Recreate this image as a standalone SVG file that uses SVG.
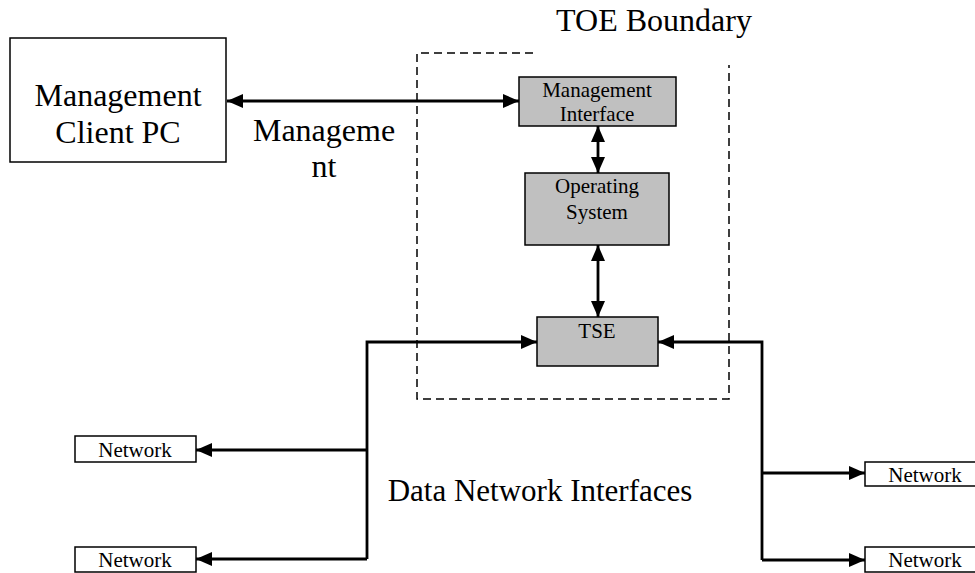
<svg xmlns="http://www.w3.org/2000/svg" width="975" height="573" viewBox="0 0 975 573">
  <style>
    text { font-family: "Liberation Serif", "Times New Roman", serif; fill: #000; text-anchor: middle; }
    .big { font-size: 32px; }
    .small { font-size: 21px; }
    .box { fill: #fff; stroke: #000; stroke-width: 1.5; }
    .comp { fill: #c0c0c0; stroke: #000; stroke-width: 1.5; }
    .wire { fill: none; stroke: #000; stroke-width: 2.8; }
    .bound { fill: none; stroke: #000; stroke-width: 1.5; stroke-dasharray: 8 5; }
  </style>
  <defs>
    <marker id="arrow" viewBox="0 0 16 14" refX="16" refY="7" markerWidth="16" markerHeight="14" markerUnits="userSpaceOnUse" orient="auto-start-reverse">
      <path d="M0,0 L16,7 L0,14 Z" fill="#000"/>
    </marker>
  </defs>
  <rect width="975" height="573" fill="#fff"/>

  <!-- TOE boundary (open at the top right) -->
  <g id="toe-boundary">
    <path class="bound" d="M533,53 H417 V399 H729 V65"/>
    <text class="big" x="654" y="31">TOE Boundary</text>
  </g>

  <g id="client-pc">
    <rect class="box" x="10" y="38" width="216" height="124"/>
    <text class="big" x="118" y="106">Management</text>
    <text class="big" x="118" y="143">Client PC</text>
  </g>

  <g id="mgmt-interface">
    <rect class="comp" x="519" y="77" width="157" height="49"/>
    <text class="small" x="597" y="97">Management</text>
    <text class="small" x="597" y="121">Interface</text>
  </g>

  <g id="operating-system">
    <rect class="comp" x="525" y="173" width="144" height="72"/>
    <text class="small" x="597" y="193">Operating</text>
    <text class="small" x="597" y="219">System</text>
  </g>

  <g id="tse">
    <rect class="comp" x="537" y="317" width="121" height="49"/>
    <text class="small" x="597" y="338">TSE</text>
  </g>

  <g id="net-left-1">
    <rect class="box" x="75" y="436" width="121" height="26"/>
    <text class="small" x="135" y="457">Network</text>
  </g>
  <g id="net-left-2">
    <rect class="box" x="75" y="547" width="121" height="25"/>
    <text class="small" x="135" y="567">Network</text>
  </g>
  <g id="net-right-1">
    <rect class="box" x="865" y="462" width="121" height="24"/>
    <text class="small" x="925" y="482">Network</text>
  </g>
  <g id="net-right-2">
    <rect class="box" x="865" y="547" width="121" height="25"/>
    <text class="small" x="925" y="567">Network</text>
  </g>

  <!-- free labels -->
  <g id="labels">
    <text class="big" x="324" y="141">Manageme</text>
    <text class="big" x="324" y="177">nt</text>
    <text x="540" y="501" font-size="31">Data Network Interfaces</text>
  </g>

  <g id="connectors">
    <line class="wire" x1="227" y1="101" x2="519" y2="101" marker-start="url(#arrow)" marker-end="url(#arrow)"/>
    <line class="wire" x1="598" y1="126" x2="598" y2="173" marker-start="url(#arrow)" marker-end="url(#arrow)"/>
    <line class="wire" x1="598" y1="245" x2="598" y2="317" marker-start="url(#arrow)" marker-end="url(#arrow)"/>
    <!-- left data path -->
    <path class="wire" d="M367,559 V342 H537" marker-end="url(#arrow)"/>
    <line class="wire" x1="367" y1="450" x2="196" y2="450" marker-end="url(#arrow)"/>
    <line class="wire" x1="367" y1="559" x2="196" y2="559" marker-end="url(#arrow)"/>
    <!-- right data path -->
    <path class="wire" d="M762,560 V342 H658" marker-end="url(#arrow)"/>
    <line class="wire" x1="762" y1="473" x2="865" y2="473" marker-end="url(#arrow)"/>
    <line class="wire" x1="762" y1="560" x2="865" y2="560" marker-end="url(#arrow)"/>
  </g>
</svg>
